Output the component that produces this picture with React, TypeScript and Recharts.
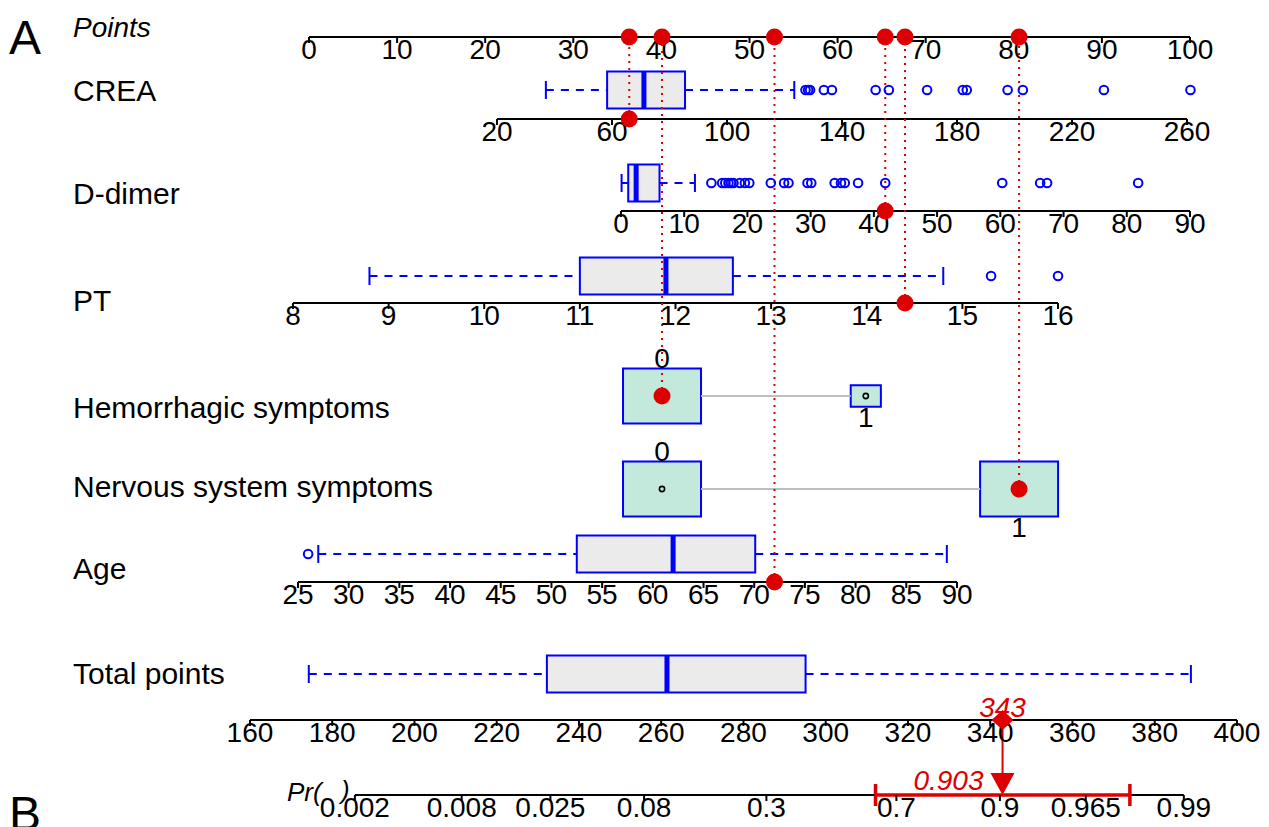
import React from 'react';
import { ScatterChart, XAxis, YAxis, Scatter, ReferenceLine, ReferenceArea } from 'recharts';

// ---------------- data ----------------
const pointsTicks = [0, 10, 20, 30, 40, 50, 60, 70, 80, 90, 100];
const creaTicks = [20, 60, 100, 140, 180, 220, 260];
const ddimerTicks = [0, 10, 20, 30, 40, 50, 60, 70, 80, 90];
const ptTicks = [8, 9, 10, 11, 12, 13, 14, 15, 16];
const ageTicks = [25, 30, 35, 40, 45, 50, 55, 60, 65, 70, 75, 80, 85, 90];
const totalTicks = [160, 180, 200, 220, 240, 260, 280, 300, 320, 340, 360, 380, 400];
const prTicks = [0.002, 0.008, 0.025, 0.08, 0.3, 0.7, 0.9, 0.965, 0.99];

// box statistics: [lower whisker, Q1, median, Q3, upper whisker]
const creaBox = [37, 58.3, 71.1, 85.4, 123.4];
const creaOutliers = [127.3, 128.2, 128.9, 133.7, 136.5, 151.7, 156.3, 169.6, 182.0, 183.4, 197.6, 202.9, 231.1, 261.2];
const ddimerBox = [0.1, 1.15, 2.4, 6.1, 11.7];
const ddimerOutliers = [14.3, 16.0, 16.5, 17.0, 17.4, 17.8, 18.8, 19.6, 20.3, 23.7, 25.8, 26.5, 29.5, 30.1, 33.8, 34.8, 35.4, 37.5, 41.8, 60.3, 66.3, 67.4, 81.8];
const ptBox = [8.8, 11.0, 11.9, 12.6, 14.8];
const ptOutliers = [15.3, 16.0];
const ageBox = [27.0, 52.5, 62.0, 70.1, 89.0];
const ageOutliers = [26.0];
const totalBox = [174.3, 232.2, 261.4, 295.1, 388.8];

const hemLevels = ['0', '1'];
const hemFreq = [0.87, 0.13];
const nervLevels = ['0', '1'];
const nervFreq = [0.5, 0.5];

// the observation shown in red
const obsCrea = 66;
const obsDdimer = 41.8;
const obsPt = 14.4;
const obsHem = 0;
const obsNerv = 1;
const obsAge = 72;
const obsTotal = 343;
const obsPr = 0.903;
const obsPrCI = [0.64, 0.98];

// ---------------- nomogram scales (value -> points) ----------------
const lin = (v0: number, p0: number, v1: number, p1: number) => (v: number) => p0 + ((v - v0) * (p1 - p0)) / (v1 - v0);
const creaPts = lin(20, 21.34, 260, 99.66);
const ddimerPts = lin(0, 35.41, 90, 100);
const ptPts = lin(8, -1.82, 16, 85.02);
const hemPts = lin(0, 40.07, 1, 63.2);
const nervPts = lin(0, 40.07, 1, 80.6);
const agePts = lin(25, -1.25, 90, 73.55);
const totalPts = lin(160, -6.7, 400, 105.33);
const prToTotal = (p: number) => 301.38 + 18.65 * Math.log(p / (1 - p));
const prPts = (p: number) => totalPts(prToTotal(p));
const identity = (v: number) => v;

// ---------------- layout ----------------
const W = 1269;
const H = 827;
const PX0 = 309;
const PX100 = 1190;
const PXPT = (PX100 - PX0) / 100;
const X_DOMAIN: [number, number] = [-PX0 / PXPT, (W - PX0) / PXPT];
const pxX = (px: number) => (px - PX0) / PXPT;

const FONT = '"Liberation Sans", Arial, Helvetica, sans-serif';
const BLUE = '#0000FF';
const RED = '#DD0000';
const BOX_FILL = '#EBEBEB';
const CAT_FILL = '#C3E8DC';

const ROW = {
  points: 37,
  creaBox: 90, creaAxis: 119,
  ddBox: 183, ddAxis: 211,
  ptBox: 276, ptAxis: 303,
  hem: 396, nerv: 489,
  ageBox: 554, ageAxis: 582,
  totBox: 674, totAxis: 720,
  pr: 795,
};

const rowLabels = [
  { x: pxX(9), y: 54, text: 'A', size: 48 },
  { x: pxX(73), y: 37, text: 'Points', size: 28, italic: true },
  { x: pxX(73), y: 101, text: 'CREA', size: 30 },
  { x: pxX(73), y: 204, text: 'D-dimer', size: 30 },
  { x: pxX(73), y: 311, text: 'PT', size: 30 },
  { x: pxX(73), y: 418, text: 'Hemorrhagic symptoms', size: 30 },
  { x: pxX(73), y: 497, text: 'Nervous system symptoms', size: 30 },
  { x: pxX(73), y: 579, text: 'Age', size: 30 },
  { x: pxX(73), y: 684, text: 'Total points', size: 30 },
  { x: pxX(287), y: 801, text: 'Pr(', size: 26, italic: true },
  { x: pxX(341), y: 799, text: ')', size: 26, italic: true },
  { x: pxX(9), y: 830, text: 'B', size: 48 },
];

// ---------------- shapes ----------------
const textShape = (props: any) => {
  const { cx, cy, payload } = props;
  return (
    <text x={cx} y={cy} fontSize={payload.size} fontFamily={FONT} fontStyle={payload.italic ? 'italic' : 'normal'}
      fill="#000" textAnchor={payload.anchor || 'start'}>
      {payload.text}
    </text>
  );
};

const tickShape = (props: any) => {
  const { cx, cy, payload } = props;
  return (
    <g>
      <line x1={cx} y1={cy} x2={cx} y2={cy + 6} stroke="#000" strokeWidth={2} />
      <text x={cx} y={cy + 21.5} fontSize={28} fontFamily={FONT} fill="#000" textAnchor="middle">{payload.label}</text>
    </g>
  );
};

const outlierShape = (props: any) => {
  const { cx, cy } = props;
  return <circle cx={cx} cy={cy} r={4.3} fill="none" stroke={BLUE} strokeWidth={2} />;
};

const smallDotShape = (props: any) => {
  const { cx, cy } = props;
  return <circle cx={cx} cy={cy} r={2.6} fill="none" stroke="#000" strokeWidth={1.6} />;
};

const redDotShape = (props: any) => {
  const { cx, cy } = props;
  return <circle cx={cx} cy={cy} r={8.5} fill={RED} stroke="none" />;
};

const diamondShape = (props: any) => {
  const { cx, cy, payload } = props;
  return (
    <g>
      <polygon points={`${cx - 11},${cy} ${cx},${cy - 10} ${cx + 11},${cy} ${cx},${cy + 10}`} fill={RED} />
      <text x={cx} y={cy - 3} fontSize={28} fontFamily={FONT} fontStyle="italic" fill={RED} textAnchor="middle">{payload.label}</text>
    </g>
  );
};

const triangleShape = (props: any) => {
  const { cx, cy, payload } = props;
  return (
    <g>
      <polygon points={`${cx - 12},${cy - 22} ${cx + 12},${cy - 22} ${cx},${cy}`} fill={RED} />
      <text x={cx - 19} y={cy - 5} fontSize={28} fontFamily={FONT} fontStyle="italic" fill={RED} textAnchor="end">{payload.label}</text>
    </g>
  );
};

// ---------------- builders ----------------
function axisEls(key: string, ticks: number[], map: (v: number) => number, y: number) {
  const lo = map(ticks[0]);
  const hi = map(ticks[ticks.length - 1]);
  return [
    <ReferenceLine key={key + '-line'} segment={[{ x: lo, y }, { x: hi, y }]} stroke="#000" strokeWidth={2} ifOverflow="visible" />,
  ];
}

function tickScatter(key: string, ticks: number[], map: (v: number) => number, y: number) {
  return (
    <Scatter key={key + '-ticks'} data={ticks.map((t) => ({ x: map(t), y, label: String(t) }))} shape={tickShape} isAnimationActive={false} />
  );
}

function boxAreas(key: string, stats: number[], map: (v: number) => number, yc: number) {
  const [, q1, , q3] = stats.map(map);
  return [
    <ReferenceArea key={key + '-box'} x1={q1} x2={q3} y1={yc - 18.5} y2={yc + 18.5} fill={BOX_FILL} fillOpacity={1} stroke={BLUE} strokeWidth={2} ifOverflow="visible" />,
  ];
}

function boxLines(key: string, stats: number[], map: (v: number) => number, yc: number) {
  const [lo, q1, med, q3, hi] = stats.map(map);
  const common = { stroke: BLUE, strokeWidth: 2, ifOverflow: 'visible' as const };
  return [
    <ReferenceLine key={key + '-wl'} segment={[{ x: lo, y: yc }, { x: q1, y: yc }]} {...common} strokeDasharray="8 7" />,
    <ReferenceLine key={key + '-wh'} segment={[{ x: q3, y: yc }, { x: hi, y: yc }]} {...common} strokeDasharray="8 7" />,
    <ReferenceLine key={key + '-cl'} segment={[{ x: lo, y: yc - 9 }, { x: lo, y: yc + 9 }]} {...common} />,
    <ReferenceLine key={key + '-ch'} segment={[{ x: hi, y: yc - 9 }, { x: hi, y: yc + 9 }]} {...common} />,
    <ReferenceLine key={key + '-med'} segment={[{ x: med, y: yc - 18.5 }, { x: med, y: yc + 18.5 }]} stroke={BLUE} strokeWidth={5} ifOverflow="visible" />,
  ];
}

function outlierScatter(key: string, vals: number[], map: (v: number) => number, yc: number) {
  return <Scatter key={key + '-out'} data={vals.map((v) => ({ x: map(v), y: yc }))} shape={outlierShape} isAnimationActive={false} />;
}

const CAT_HW = 39;
const CAT_HH = 27.5;
function catSize(freq: number[], i: number) {
  const m = Math.max(...freq);
  return Math.sqrt(freq[i] / m);
}
function catHalfW(freq: number[], i: number) {
  return (CAT_HW * catSize(freq, i)) / PXPT;
}
function catAreas(key: string, levels: string[], freq: number[], map: (v: number) => number, yc: number) {
  return levels.map((_, i) => {
    const s = catSize(freq, i);
    const c = map(i);
    const hw = catHalfW(freq, i);
    const hh = CAT_HH * s;
    return (
      <ReferenceArea key={key + '-cat' + i} x1={c - hw} x2={c + hw} y1={yc - hh} y2={yc + hh} fill={CAT_FILL} fillOpacity={1} stroke={BLUE} strokeWidth={2} ifOverflow="visible" />
    );
  });
}
function catConnector(key: string, levels: string[], freq: number[], map: (v: number) => number, yc: number) {
  const last = levels.length - 1;
  return (
    <ReferenceLine key={key + '-conn'}
      segment={[{ x: map(0) + catHalfW(freq, 0), y: yc }, { x: map(last) - catHalfW(freq, last), y: yc }]}
      stroke="#BEBEBE" strokeWidth={2} ifOverflow="visible" />
  );
}
function catLabels(levels: string[], freq: number[], map: (v: number) => number, yc: number) {
  return levels.map((lab, i) => {
    const s = catSize(freq, i);
    const hh = CAT_HH * s;
    return { x: map(i), y: i % 2 === 0 ? yc - hh - 0.5 : yc + hh + 20.5, text: lab, size: 28, anchor: 'middle' };
  });
}

// observation rows
const obsRows = [
  { pts: creaPts(obsCrea), y: ROW.creaAxis },
  { pts: ddimerPts(obsDdimer), y: ROW.ddAxis },
  { pts: ptPts(obsPt), y: ROW.ptAxis },
  { pts: hemPts(obsHem), y: ROW.hem },
  { pts: nervPts(obsNerv), y: ROW.nerv },
  { pts: agePts(obsAge), y: ROW.ageAxis },
];

const allTextLabels = [
  ...rowLabels,
  ...catLabels(hemLevels, hemFreq, hemPts, ROW.hem),
  ...catLabels(nervLevels, nervFreq, nervPts, ROW.nerv),
];

export default function App() {
  const totX = totalPts(obsTotal);
  const prX = prPts(obsPr);
  const ciLo = prPts(obsPrCI[0]);
  const ciHi = prPts(obsPrCI[1]);
  return (
    <div style={{ position: 'absolute', left: 0, top: 0, width: W, height: H, background: '#fff' }}>
      <ScatterChart width={W} height={H} margin={{ top: 0, right: 0, bottom: 0, left: 0 }}>
        <XAxis type="number" dataKey="x" domain={X_DOMAIN} hide height={0} allowDataOverflow />
        <YAxis type="number" dataKey="y" domain={[0, H]} reversed hide width={0} allowDataOverflow />

        {/* box fills */}
        {boxAreas('crea', creaBox, creaPts, ROW.creaBox)}
        {boxAreas('dd', ddimerBox, ddimerPts, ROW.ddBox)}
        {boxAreas('pt', ptBox, ptPts, ROW.ptBox)}
        {boxAreas('age', ageBox, agePts, ROW.ageBox)}
        {boxAreas('tot', totalBox, totalPts, ROW.totBox)}

        {/* categorical boxes and connectors */}
        {catAreas('hem', hemLevels, hemFreq, hemPts, ROW.hem)}
        {catAreas('nerv', nervLevels, nervFreq, nervPts, ROW.nerv)}
        {catConnector('hem', hemLevels, hemFreq, hemPts, ROW.hem)}
        {catConnector('nerv', nervLevels, nervFreq, nervPts, ROW.nerv)}

        {/* whiskers & medians */}
        {boxLines('crea', creaBox, creaPts, ROW.creaBox)}
        {boxLines('dd', ddimerBox, ddimerPts, ROW.ddBox)}
        {boxLines('pt', ptBox, ptPts, ROW.ptBox)}
        {boxLines('age', ageBox, agePts, ROW.ageBox)}
        {boxLines('tot', totalBox, totalPts, ROW.totBox)}

        {/* axes */}
        {axisEls('points', pointsTicks, identity, ROW.points)}
        {axisEls('crea', creaTicks, creaPts, ROW.creaAxis)}
        {axisEls('dd', ddimerTicks, ddimerPts, ROW.ddAxis)}
        {axisEls('pt', ptTicks, ptPts, ROW.ptAxis)}
        {axisEls('age', ageTicks, agePts, ROW.ageAxis)}
        {axisEls('tot', totalTicks, totalPts, ROW.totAxis)}
        {axisEls('pr', prTicks, prPts, ROW.pr)}

        {/* red dotted drop lines */}
        {obsRows.map((o, i) => (
          <ReferenceLine key={'drop' + i} segment={[{ x: o.pts, y: o.y }, { x: o.pts, y: ROW.points }]} stroke={RED} strokeWidth={2} strokeDasharray="2 5" ifOverflow="visible" />
        ))}

        {/* total -> probability */}
        <ReferenceLine segment={[{ x: totX, y: ROW.totAxis }, { x: totX, y: ROW.pr - 20 }]} stroke={RED} strokeWidth={2} ifOverflow="visible" />
        <ReferenceLine segment={[{ x: ciLo, y: ROW.pr }, { x: ciHi, y: ROW.pr }]} stroke={RED} strokeWidth={3.5} ifOverflow="visible" />
        <ReferenceLine segment={[{ x: ciLo, y: ROW.pr - 11 }, { x: ciLo, y: ROW.pr + 11 }]} stroke={RED} strokeWidth={3.5} ifOverflow="visible" />
        <ReferenceLine segment={[{ x: ciHi, y: ROW.pr - 11 }, { x: ciHi, y: ROW.pr + 11 }]} stroke={RED} strokeWidth={3.5} ifOverflow="visible" />

        {/* ticks */}
        {tickScatter('points', pointsTicks, identity, ROW.points)}
        {tickScatter('crea', creaTicks, creaPts, ROW.creaAxis)}
        {tickScatter('dd', ddimerTicks, ddimerPts, ROW.ddAxis)}
        {tickScatter('pt', ptTicks, ptPts, ROW.ptAxis)}
        {tickScatter('age', ageTicks, agePts, ROW.ageAxis)}
        {tickScatter('tot', totalTicks, totalPts, ROW.totAxis)}
        {tickScatter('pr', prTicks, prPts, ROW.pr)}

        {/* outliers */}
        {outlierScatter('crea', creaOutliers, creaPts, ROW.creaBox)}
        {outlierScatter('dd', ddimerOutliers, ddimerPts, ROW.ddBox)}
        {outlierScatter('pt', ptOutliers, ptPts, ROW.ptBox)}
        {outlierScatter('age', ageOutliers, agePts, ROW.ageBox)}

        {/* small markers in categorical boxes */}
        <Scatter data={hemLevels.map((_, i) => ({ x: hemPts(i), y: ROW.hem }))} shape={smallDotShape} isAnimationActive={false} />
        <Scatter data={nervLevels.map((_, i) => ({ x: nervPts(i), y: ROW.nerv }))} shape={smallDotShape} isAnimationActive={false} />

        {/* text */}
        <Scatter data={allTextLabels} shape={textShape} isAnimationActive={false} />

        {/* red observation dots */}
        <Scatter data={obsRows.map((o) => ({ x: o.pts, y: o.y }))} shape={redDotShape} isAnimationActive={false} />
        <Scatter data={obsRows.map((o) => ({ x: o.pts, y: ROW.points }))} shape={redDotShape} isAnimationActive={false} />
        <Scatter data={[{ x: totX, y: ROW.totAxis, label: String(obsTotal) }]} shape={diamondShape} isAnimationActive={false} />
        <Scatter data={[{ x: prX, y: ROW.pr, label: String(obsPr) }]} shape={triangleShape} isAnimationActive={false} />
      </ScatterChart>
    </div>
  );
}
